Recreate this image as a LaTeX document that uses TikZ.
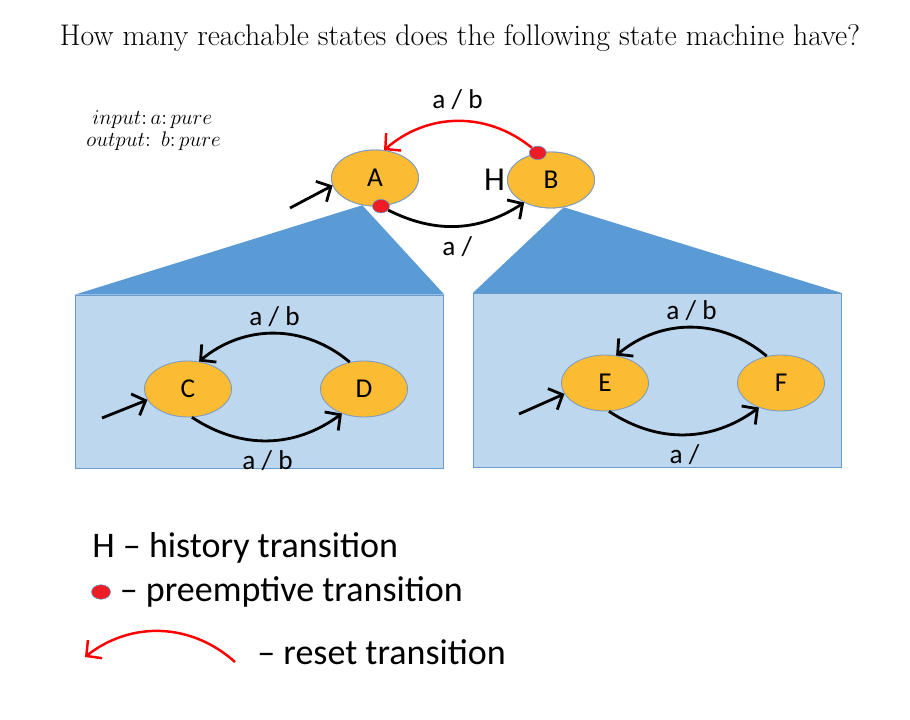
\documentclass[tikz,border=0pt]{standalone}
\usepackage{fontspec}
\newfontfamily\calfont[Ligatures=TeX]{Carlito}
\usetikzlibrary{arrows.meta,shapes.geometric,positioning}
\definecolor{stategold}{HTML}{FBBC33}
\definecolor{stateedge}{HTML}{7F9CC0}
\definecolor{zoomblue}{HTML}{5B9BD5}
\definecolor{boxblue}{HTML}{BDD7EE}
\definecolor{boxedge}{HTML}{6A9BCB}
\definecolor{dotred}{HTML}{EE1C25}
\begin{document}
\begin{tikzpicture}[x=0.02cm,y=-0.02cm,
  state/.style={ellipse,draw=stateedge,line width=0.5pt,fill=stategold,minimum width=1.74cm,minimum height=1.12cm,inner sep=0pt,font=\calfont\fontsize{15.5}{17}\selectfont},
  pdot/.style={ellipse,draw=zoomblue,line width=0.3pt,fill=dotred,minimum width=0.34cm,minimum height=0.27cm,inner sep=0pt},
  zoombox/.style={draw=boxedge,line width=0.6pt,fill=boxblue,minimum width=7.38cm,minimum height=3.47cm,inner sep=0pt},
  trans/.style={line width=1.6pt,-{Straight Barb[length=2.2mm,width=4.6mm]}},
  reset/.style={trans,red,line width=1.4pt},
  lbl/.style={font=\calfont\fontsize{15.5}{17}\selectfont,inner sep=1pt,text=black},
  sig/.style={font=\fontsize{12}{14}\selectfont,anchor=west,inner sep=0pt},
  legend/.style={font=\calfont\fontsize{20.5}{24}\selectfont,anchor=west,inner sep=0pt}]
\useasboundingbox (0,0) rectangle (910,720);
% title and signature
\node[font=\fontsize{17}{20}\selectfont] (title) at (460,38) {How many reachable states does the following state machine have?};
\node[sig] (sigin) at (92,120) {$input\colon a\colon pure$};
\node[sig] (sigout) at (86,141) {$output\colon\ b\colon pure$};
% refinements
\node[zoombox] (L) at (259.5,382) {};
\node[zoombox] (R) at (657.5,380.5) {};
\node[state] (A) at (375,178) {A};
\node[state] (B) at (551,180) {B};
\fill[zoomblue] (L.north west) -- (A.-115) -- (L.north east) -- cycle;
\fill[zoomblue] (R.north west) -- (B.-65) -- (R.north east) -- cycle;
% top level machine
\node[state] (A) at (375,178) {A};
\node[state] (B) at (551,180) {B};
\node[font=\calfont\fontsize{19}{22}\selectfont,inner sep=0pt,left=1pt of B] (H) {H};
\node[pdot] (pA) at (A.-78) {};
\node[pdot] (pB) at (B.116) {};
\coordinate (iA) at (290,208);
\draw[trans] (iA) -- (A.190);
\draw[trans] (pA) to[bend right=30] node[lbl,below=4pt] {a /} (B.-140);
\draw[reset] (pB) to[bend right=40] node[lbl,above=5pt] {a / b} (A.72);
% left refinement
\node[state] (C) at (188,389) {C};
\node[state] (D) at (364,389) {D};
\coordinate (iC) at (102,418);
\draw[trans] (iC) -- (C.195);
\draw[trans] (D.118) to[bend right=40] node[lbl,above=2pt] {a / b} (C.68);
\draw[trans] (C.-82) to[bend right=35] node[lbl,below=4pt] {a / b} (D.-132);
% right refinement
\node[state] (E) at (605,383) {E};
\node[state] (F) at (781,383) {F};
\coordinate (iE) at (519,414);
\draw[trans] (iE) -- (E.195);
\draw[trans] (F.118) to[bend right=40] node[lbl,above=2pt] {a / b} (E.68);
\draw[trans] (E.-82) to[bend right=35] node[lbl,below=4pt] {a /} (F.-132);
% legend
\node[legend] (lgH) at (92,548) {H -- history transition};
\node[pdot,minimum width=0.38cm,minimum height=0.29cm] (lgdot) at (101,592) {};
\node[legend,right=5pt of lgdot] (lgP) {-- preemptive transition};
\coordinate (rs1) at (235,662);
\coordinate (rs2) at (85,657);
\draw[reset] (rs1) to[bend right=40] (rs2);
\node[legend] (lgR) at (257,652) {-- reset transition};
\end{tikzpicture}
\end{document}
